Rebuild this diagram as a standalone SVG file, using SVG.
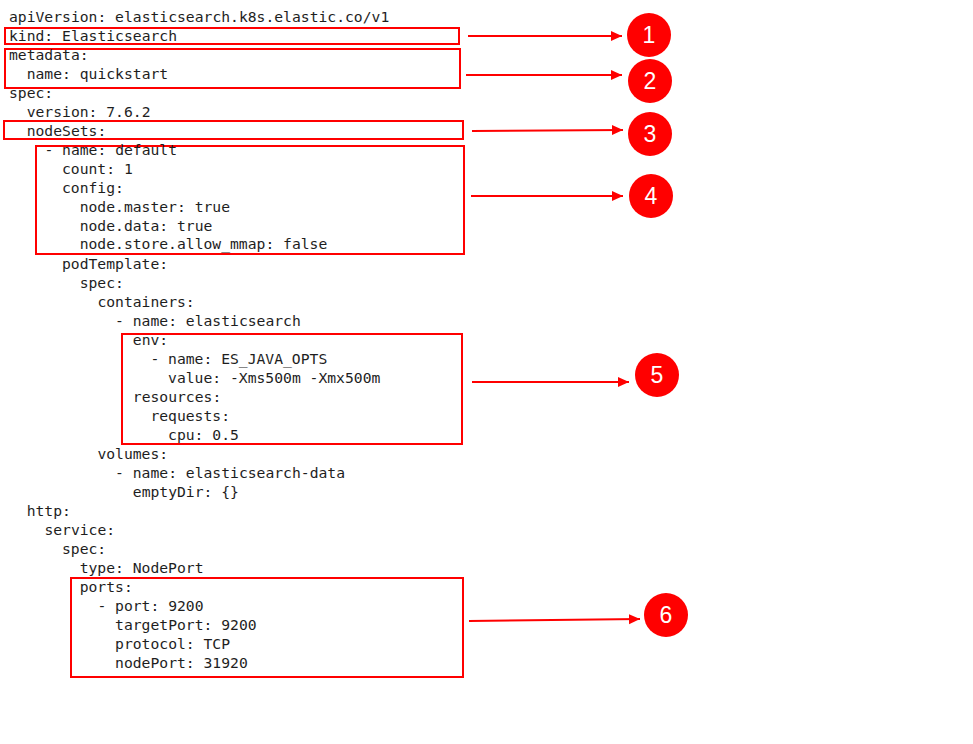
<svg xmlns="http://www.w3.org/2000/svg" width="973" height="744" viewBox="0 0 973 744">
<defs>
<style>
.code{font-family:"DejaVu Sans Mono","Liberation Mono",monospace;font-size:14.7px;fill:#1e1e1e}
.box{fill:none;stroke:#ff0000;stroke-width:2}
.conn{stroke:#ff0000;stroke-width:2;fill:none}
.badge{fill:#ff0000}
.num{font-family:"Liberation Sans",Arial,sans-serif;font-size:23px;fill:#ffffff;text-anchor:middle}
</style>
<marker id="ah" markerUnits="userSpaceOnUse" markerWidth="12" markerHeight="12" refX="11" refY="6" orient="auto">
<path d="M0,1 L11,6 L0,11 Z" fill="#ff0000"/>
</marker>
</defs>
<rect width="973" height="744" fill="#ffffff"/>
<g id="box1"><rect class="box" x="5" y="28" width="454" height="16"/></g>
<g id="box2"><rect class="box" x="5" y="49" width="455" height="39"/></g>
<g id="box3"><rect class="box" x="4" y="121" width="459" height="18"/></g>
<g id="box4"><rect class="box" x="36" y="146" width="428" height="108"/></g>
<g id="box5"><rect class="box" x="122" y="334" width="340" height="110"/></g>
<g id="box6"><rect class="box" x="71" y="578" width="392" height="99"/></g>
<g id="code">
<text class="code" x="9" y="22">apiVersion: elasticsearch.k8s.elastic.co/v1</text>
<text class="code" x="9" y="41">kind: Elasticsearch</text>
<text class="code" x="9" y="60">metadata:</text>
<text class="code" x="26.7" y="79">name: quickstart</text>
<text class="code" x="9" y="98">spec:</text>
<text class="code" x="26.7" y="117">version: 7.6.2</text>
<text class="code" x="26.7" y="136">nodeSets:</text>
<text class="code" x="44.4" y="155">- name: default</text>
<text class="code" x="62" y="174">count: 1</text>
<text class="code" x="62" y="193">config:</text>
<text class="code" x="79.7" y="212">node.master: true</text>
<text class="code" x="79.7" y="231">node.data: true</text>
<text class="code" x="79.7" y="249">node.store.allow_mmap: false</text>
<text class="code" x="62" y="269">podTemplate:</text>
<text class="code" x="79.7" y="288">spec:</text>
<text class="code" x="97.4" y="307">containers:</text>
<text class="code" x="115.1" y="326">- name: elasticsearch</text>
<text class="code" x="132.8" y="345">env:</text>
<text class="code" x="150.4" y="364">- name: ES_JAVA_OPTS</text>
<text class="code" x="168.1" y="383">value: -Xms500m -Xmx500m</text>
<text class="code" x="132.8" y="402">resources:</text>
<text class="code" x="150.4" y="421">requests:</text>
<text class="code" x="168.1" y="440">cpu: 0.5</text>
<text class="code" x="97.4" y="459">volumes:</text>
<text class="code" x="115.1" y="478">- name: elasticsearch-data</text>
<text class="code" x="132.8" y="497">emptyDir: {}</text>
<text class="code" x="26.7" y="516">http:</text>
<text class="code" x="44.4" y="535">service:</text>
<text class="code" x="62" y="554">spec:</text>
<text class="code" x="79.7" y="573">type: NodePort</text>
<text class="code" x="79.7" y="592">ports:</text>
<text class="code" x="97.4" y="611">- port: 9200</text>
<text class="code" x="115.1" y="630">targetPort: 9200</text>
<text class="code" x="115.1" y="649">protocol: TCP</text>
<text class="code" x="115.1" y="668">nodePort: 31920</text>
</g>
<g id="connectors">
<line class="conn" x1="468" y1="36" x2="622" y2="36" marker-end="url(#ah)"/>
<line class="conn" x1="466" y1="75" x2="622" y2="75" marker-end="url(#ah)"/>
<line class="conn" x1="472" y1="131" x2="623" y2="130" marker-end="url(#ah)"/>
<line class="conn" x1="471" y1="196" x2="623" y2="196" marker-end="url(#ah)"/>
<line class="conn" x1="472" y1="382" x2="629" y2="382" marker-end="url(#ah)"/>
<line class="conn" x1="469" y1="621" x2="640" y2="619" marker-end="url(#ah)"/>
</g>
<g id="badge1"><circle class="badge" cx="649" cy="35" r="22"/><text class="num" x="649" y="43">1</text></g>
<g id="badge2"><circle class="badge" cx="650" cy="81" r="22"/><text class="num" x="650" y="89">2</text></g>
<g id="badge3"><circle class="badge" cx="650" cy="134" r="22"/><text class="num" x="650" y="142">3</text></g>
<g id="badge4"><circle class="badge" cx="651" cy="196" r="22"/><text class="num" x="651" y="204">4</text></g>
<g id="badge5"><circle class="badge" cx="657" cy="375" r="22"/><text class="num" x="657" y="383">5</text></g>
<g id="badge6"><circle class="badge" cx="666" cy="615" r="22"/><text class="num" x="666" y="623">6</text></g>
</svg>
